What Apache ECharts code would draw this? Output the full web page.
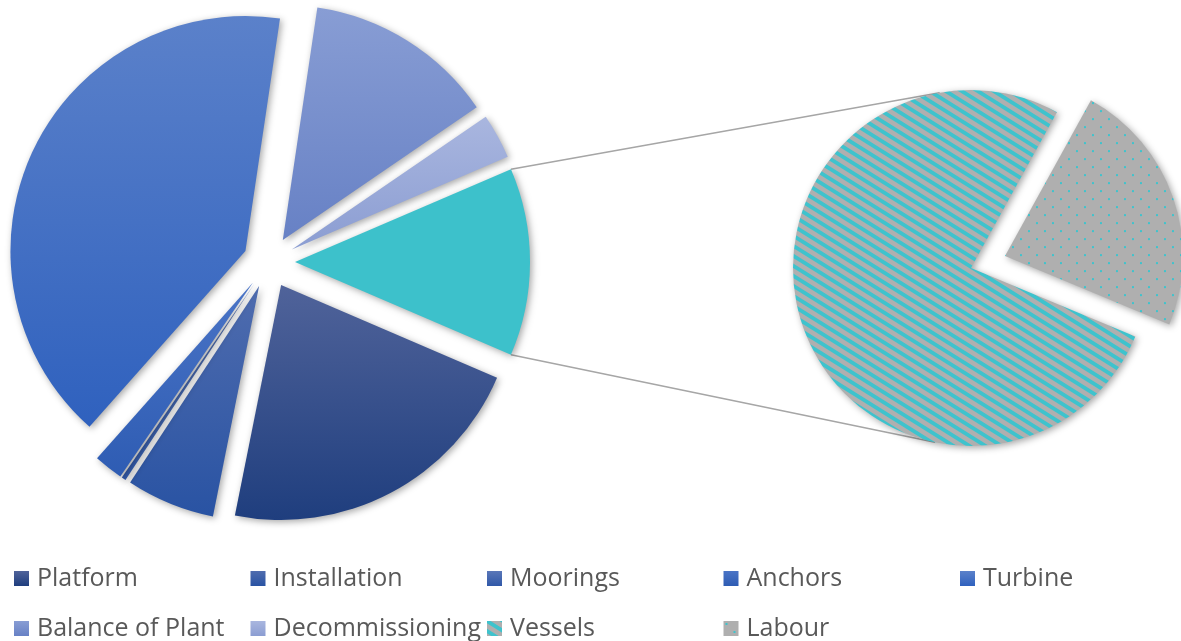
<!DOCTYPE html>
<html>
<head>
<meta charset="utf-8">
<script src="https://cdn.jsdelivr.net/npm/echarts@6/dist/echarts.min.js"></script>
<style>
  html, body { margin: 0; padding: 0; background: #ffffff; }
  #main { width: 1181px; height: 641px; }
</style>
</head>
<body>
<div id="main"></div>
<script>
// Cost shares (%) of the main components
const mainNames = ['Platform', 'Installation', 'Moorings', 'Anchors', 'Turbine', 'Balance of Plant', 'Decommissioning'];
const mainValues = [21.7, 6.1, 0.3, 2.0, 40.8, 13.1, 3.1];

// Breakdown of the remaining share, shown in the secondary pie
const detailNames = ['Vessels', 'Labour'];
const detailValues = [9.9, 3.0];

// Legend entries, in reading order (two rows)
const legendNames = ['Platform', 'Installation', 'Moorings', 'Anchors', 'Turbine',
                     'Balance of Plant', 'Decommissioning', 'Vessels', 'Labour'];

// ---- styling ----
const mainGradients = [
  ['#50639a', '#1f3e7e'],
  ['#4f6cae', '#2953a3'],
  ['#5a77b8', '#3058a8'],
  ['#4a74c6', '#2e5cb3'],
  ['#5b81ca', '#2f61be'],
  ['#889dd4', '#6781c5'],
  ['#a9b6df', '#8b9dd2']
];
const otherColor = '#3dc1cb';
const patternGrey = '#afafaf';
const patternTeal = '#3ec3cd';

function vGrad(c) {
  return new echarts.graphic.LinearGradient(0, 0, 0, 1, [
    { offset: 0, color: c[0] }, { offset: 1, color: c[1] }
  ]);
}

// Shallow downward diagonal stripes for Vessels
function stripePattern() {
  const w = 16, hgt = 10, cv = document.createElement('canvas');
  cv.width = w; cv.height = hgt;
  const g = cv.getContext('2d');
  g.fillStyle = patternGrey; g.fillRect(0, 0, w, hgt);
  g.strokeStyle = patternTeal; g.lineWidth = 3.8;
  for (let k = -2; k <= 2; k++) {
    g.beginPath();
    g.moveTo(-w + k * w, -hgt); g.lineTo(2 * w + k * w, 2 * hgt);
    g.stroke();
  }
  return cv;
}
// Sparse staggered dots for Labour
function dotPattern() {
  const s = 16, cv = document.createElement('canvas');
  cv.width = s; cv.height = s;
  const g = cv.getContext('2d');
  g.fillStyle = patternGrey; g.fillRect(0, 0, s, s);
  g.fillStyle = patternTeal;
  g.fillRect(2, 2, 2, 2);
  g.fillRect(10, 10, 2, 2);
  return cv;
}

// ---- layout ----
const left = { cx: 269, cy: 262, r: 235, off: 26 };
const right = { cx: 971, cy: 268, r: 178, off: 36, start: -22.6 };

const sum = a => a.reduce((p, v) => p + v, 0);
const otherShare = sum(detailValues);
const total = sum(mainValues) + otherShare;
const halfOther = otherShare / total * 180;   // half of the split slice, degrees

// connector lines: from the split slice's outer corners, tangent to the secondary pie
function tangentEnd(px, py, upper) {
  const dx = right.cx - px, dy = right.cy - py;
  const d = Math.hypot(dx, dy);
  const base = Math.atan2(dy, dx);
  const a = Math.asin(right.r / d);
  const len = Math.sqrt(d * d - right.r * right.r);
  const ang = upper ? base - a : base + a;
  return [px + len * Math.cos(ang), py + len * Math.sin(ang)];
}
const h = halfOther * Math.PI / 180;
const ax = left.cx + left.off;
const topCorner = [ax + left.r * Math.cos(h), left.cy - left.r * Math.sin(h)];
const botCorner = [ax + left.r * Math.cos(h), left.cy + left.r * Math.sin(h)];
const topEnd = tangentEnd(topCorner[0], topCorner[1], true);
const botEnd = tangentEnd(botCorner[0], botCorner[1], false);

const sliceShadow = {
  shadowBlur: 7, shadowOffsetX: 2, shadowOffsetY: 2, shadowColor: 'rgba(0,0,0,0.35)'
};

const mainData = mainNames.map((n, i) => ({
  name: n, value: mainValues[i], selected: true,
  itemStyle: { color: vGrad(mainGradients[i]) }
}));
mainData.push({ name: 'Other', value: otherShare, selected: true, itemStyle: { color: otherColor } });

const detailFills = [
  { image: stripePattern(), repeat: 'repeat' },
  { image: dotPattern(), repeat: 'repeat' }
];
const detailData = detailNames.map((n, i) => ({
  name: n, value: detailValues[i], selected: i === 1,
  itemStyle: { color: detailFills[i] }
}));

// one legend block per entry, laid out on a 5-column grid
const legends = legendNames.map((n, k) => {
  const col = k % 5, row = Math.floor(k / 5);
  return {
    data: [n],
    left: 14 + col * 236.5,
    top: 566 + row * 50,
    padding: 0,
    icon: 'rect',
    itemWidth: 15,
    itemHeight: 15,
    selectedMode: false,
    itemStyle: { shadowBlur: 0, shadowOffsetX: 0, shadowOffsetY: 0, shadowColor: 'rgba(0,0,0,0)' },
    textStyle: { fontFamily: 'Open Sans', fontSize: 25, color: '#595959', padding: [0, 0, 0, 3] }
  };
});

const chart = echarts.init(document.getElementById('main'), null, { renderer: 'canvas' });
chart.setOption({
  animation: false,
  backgroundColor: '#ffffff',
  legend: legends,
  graphic: [
    {
      type: 'line', z: 0, silent: true,
      shape: { x1: topCorner[0], y1: topCorner[1], x2: topEnd[0], y2: topEnd[1] },
      style: { stroke: '#a6a6a6', lineWidth: 1.5 }
    },
    {
      type: 'line', z: 0, silent: true,
      shape: { x1: botCorner[0], y1: botCorner[1], x2: botEnd[0], y2: botEnd[1] },
      style: { stroke: '#a6a6a6', lineWidth: 1.5 }
    }
  ],
  series: [
    {
      type: 'pie',
      center: [left.cx, left.cy],
      radius: left.r,
      startAngle: -halfOther,
      clockwise: true,
      selectedMode: 'multiple',
      selectedOffset: left.off,
      label: { show: false },
      labelLine: { show: false },
      emphasis: { disabled: true },
      itemStyle: sliceShadow,
      z: 2,
      data: mainData
    },
    {
      type: 'pie',
      center: [right.cx, right.cy],
      radius: right.r,
      startAngle: right.start,
      clockwise: true,
      selectedMode: 'multiple',
      selectedOffset: right.off,
      label: { show: false },
      labelLine: { show: false },
      emphasis: { disabled: true },
      itemStyle: sliceShadow,
      z: 2,
      data: detailData
    }
  ]
});
</script>
</body>
</html>
